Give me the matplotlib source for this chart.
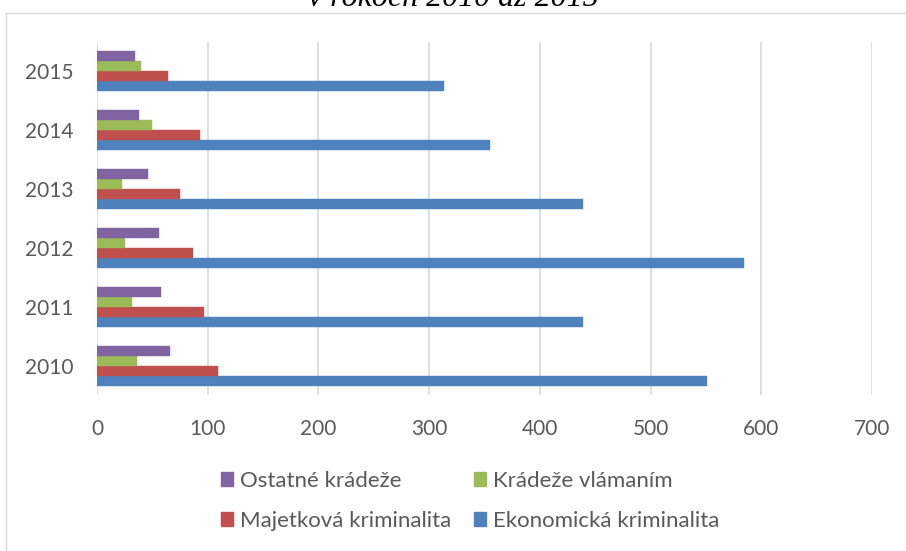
import matplotlib
matplotlib.use("Agg")
import matplotlib.pyplot as plt
import numpy as np
from matplotlib.patches import Rectangle, Patch

years = ["2010", "2011", "2012", "2013", "2014", "2015"]
ekonomicka = [551, 439, 584, 439, 355, 313]
majetkova = [109, 97, 87, 75, 93, 64]
vlamanim = [36, 32, 25, 23, 50, 40]
ostatne = [66, 58, 56, 46, 38, 34]

series = [
    ("Ekonomická kriminalita", ekonomicka, "#4f81bd"),
    ("Majetková kriminalita", majetkova, "#c0504d"),
    ("Krádeže vlámaním", vlamanim, "#9bbb59"),
    ("Ostatné krádeže", ostatne, "#8064a2"),
]
xticks = [0, 100, 200, 300, 400, 500, 600, 700]
title = "v rokoch 2010 až 2015"

plt.rcParams['font.family'] = ['Lato', 'DejaVu Sans']
W, H = 906, 551
fig = plt.figure(figsize=(W / 100, H / 100), dpi=100)

# chart border
fig.patches.append(Rectangle((6 / W, -0.1), 1.2, 1.1 - 13 / H, transform=fig.transFigure,
                             fill=False, edgecolor="#d9d9d9", linewidth=1.0))

ax = fig.add_axes([97 / W, 156 / H, 775 / W, 353 / H])
y = np.arange(len(years))
bh = 0.17
for i, (name, vals, col) in enumerate(series):
    ax.barh(y + (i - 1.5) * bh, vals, height=bh, color=col, edgecolor=col, linewidth=0.3, zorder=3)

ax.set_xlim(0, 700)
ax.set_ylim(-0.5, len(years) - 0.5)
ax.set_xticks(xticks)
ax.set_yticks(y)
ax.set_yticklabels(years)
ax.tick_params(axis='both', length=0, labelsize=15, labelcolor="#595959")
ax.tick_params(axis='x', pad=17)
ax.tick_params(axis='y', pad=17)
ax.grid(axis='x', color="#d9d9d9", linewidth=1.2, zorder=0)
for s in ax.spines.values():
    s.set_visible(False)

fig.text(0.5, 1 - 6 / H, title, ha='center', va='baseline', fontsize=23,
         family='Liberation Serif', style='italic', color="#000000")

handles = {name: Patch(facecolor=col, edgecolor=col) for name, _, col in series}
order = ["Ostatné krádeže", "Majetková kriminalita", "Krádeže vlámaním", "Ekonomická kriminalita"]
leg = fig.legend([handles[n] for n in order], order, ncol=2, loc='center',
                 bbox_to_anchor=(470 / W, 1 - 501 / H), frameon=False, fontsize=16,
                 handlelength=0.58, handleheight=0.58, handletextpad=0.3, columnspacing=1.0,
                 labelspacing=0.89, labelcolor="#595959", borderpad=0)

fig.savefig("out.png", dpi=100)
